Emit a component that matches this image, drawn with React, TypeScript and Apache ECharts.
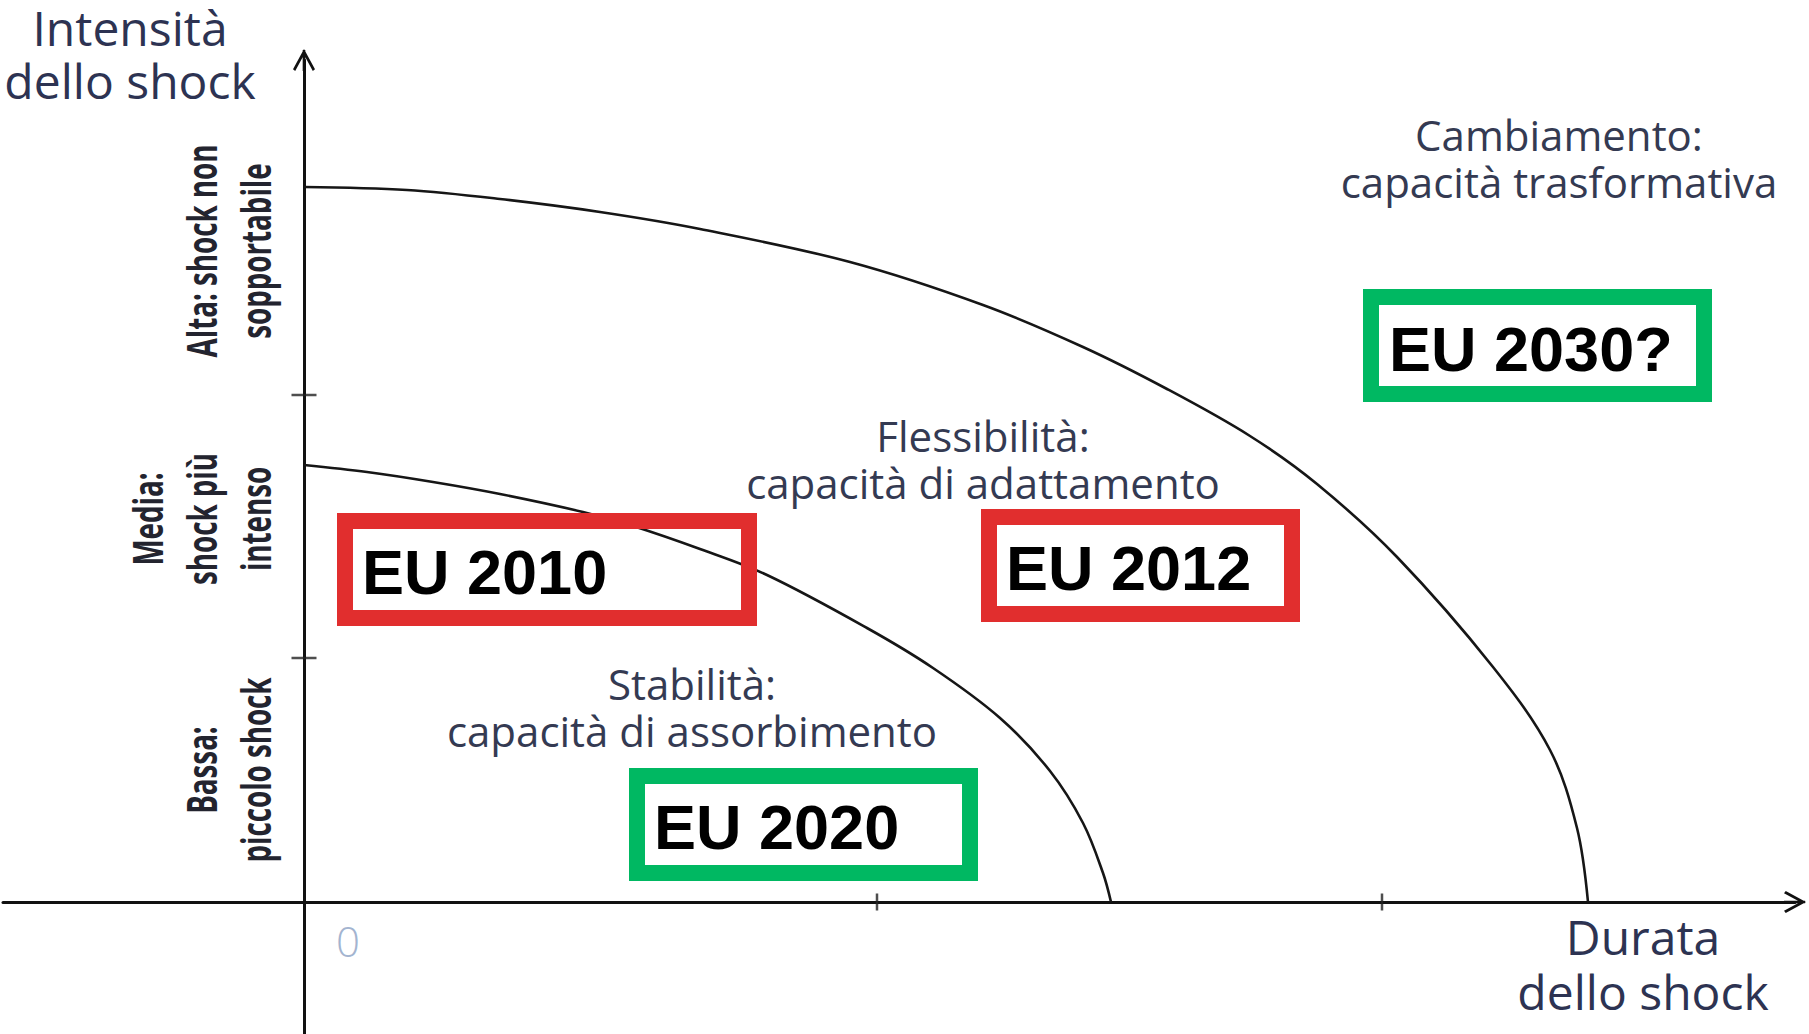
import React, { useEffect, useRef } from "react";
import * as echarts from "echarts";

// Axis extents (data units)
const X_MIN = -3.01;
const X_MAX = 14.91;
const Y_MIN = -1.32;
const Y_MAX = 8.42;

// Outer curve: limit of flexibility (adaptation)
const OUTER_X = [0, 1.03, 1.96, 2.96, 3.96, 5.46, 6.79, 7.79, 8.63, 9.46, 10.13, 10.93, 11.89, 12.46, 12.73, 12.84];
const OUTER_Y = [7.15, 7.12, 7.03, 6.9, 6.73, 6.4, 5.97, 5.55, 5.13, 4.66, 4.18, 3.45, 2.35, 1.52, 0.74, 0];

// Inner curve: limit of stability (absorption)
const INNER_X = [0, 0.63, 1.29, 1.96, 2.79, 3.29, 3.96, 4.63, 5.63, 6.29, 6.96, 7.46, 7.79, 7.99, 8.07];
const INNER_Y = [4.37, 4.3, 4.2, 4.08, 3.9, 3.76, 3.53, 3.27, 2.74, 2.34, 1.84, 1.31, 0.79, 0.29, 0];

// Axis tick marks
const X_TICKS = [5.73, 10.78];
const Y_TICKS = [2.44, 5.07];

// Texts
const Y_TITLE = ["Intensità", "dello shock"];
const X_TITLE = ["Durata", "dello shock"];
const ZERO_LABEL = "0";
const LEVEL_ALTA = ["Alta: shock non", "sopportabile"];
const LEVEL_MEDIA = ["Media:", "shock più", "intenso"];
const LEVEL_BASSA = ["Bassa:", "piccolo shock"];
const ZONE_STAB = ["Stabilità:", "capacità di assorbimento"];
const ZONE_FLEX = ["Flessibilità:", "capacità di adattamento"];
const ZONE_CHANGE = ["Cambiamento:", "capacità trasformativa"];
const BOX_LABELS = ["EU 2010", "EU 2012", "EU 2020", "EU 2030?"];

const RED = "#E12E2E";
const GREEN = "#00B862";
const TXT = "#343a52";
const ARROW =
  "path://M50 0 L100 92 L90 100 L50 26 L10 100 L0 92 Z M44 4 L56 4 L56 100 L44 100 Z";

export default function App() {
  const ref = useRef<HTMLDivElement>(null);

  useEffect(() => {
    document.body.style.margin = "0";
    const chart = echarts.init(ref.current!, undefined, { renderer: "svg" });

    const sans = "'Open Sans', 'Noto Sans', sans-serif";
    const arial = "'Liberation Sans', Arial, sans-serif";

    const txt = (
      lines: string[],
      x: number,
      y: number,
      fontSize: number,
      lineHeight: number,
      extra: any = {}
    ) => ({
      type: "text",
      x,
      y,
      z: 20,
      silent: true,
      ...(extra.el || {}),
      style: {
        text: lines.join("\n"),
        fontSize,
        lineHeight,
        fontFamily: sans,
        fill: TXT,
        align: "center",
        verticalAlign: "middle",
        ...(extra.style || {}),
      },
    });

    const vtxt = (lines: string[], x: number, y: number) =>
      txt(lines, x, y, 42, 54, {
        el: { rotation: Math.PI / 2, scaleX: 0.66 },
        style: { fontWeight: "bold", fill: "#23242f" },
      });

    const box = (ox: number, oy: number, w: number, h: number, color: string) => ({
      type: "rect",
      z: 15,
      silent: true,
      shape: { x: ox + 8, y: oy + 8, width: w - 16, height: h - 16 },
      style: { fill: "none", stroke: color, lineWidth: 16 },
    });

    const boxText = (text: string, x: number, y: number) =>
      txt([text], x, y, 63, 66, {
        style: { fontFamily: arial, fontWeight: "bold", fill: "#000", align: "left" },
      });

    const titleStyle = { style: { fill: "#2d3352" } };

    const graphic: any[] = [
      txt(Y_TITLE, 130, 54, 48, 53, titleStyle),
      txt(X_TITLE, 1643, 964, 48, 55, titleStyle),
      txt([ZERO_LABEL], 348, 940, 42, 44, { style: { fill: "#a3b4d0", fontWeight: 300 } }),

      vtxt(LEVEL_ALTA, 227, 251),
      vtxt(LEVEL_MEDIA, 200, 519),
      vtxt(LEVEL_BASSA, 227, 770),

      txt(ZONE_CHANGE, 1559, 158, 42, 47),
      txt(ZONE_FLEX, 983, 459, 42, 47),
      txt(ZONE_STAB, 692, 707, 42, 47),

      box(337, 513, 420, 113, RED),
      box(981, 509, 319, 113, RED),
      box(629, 768, 349, 113, GREEN),
      box(1363, 289, 349, 113, GREEN),
      boxText(BOX_LABELS[0], 362, 572),
      boxText(BOX_LABELS[1], 1006, 568),
      boxText(BOX_LABELS[2], 654, 827),
      boxText(BOX_LABELS[3], 1389, 349),
    ];

    const axisCommon = {
      type: "value",
      axisTick: { show: false },
      axisLabel: { show: false },
      splitLine: { show: false },
      axisLine: {
        show: true,
        onZero: true,
        symbol: ["none", ARROW],
        symbolSize: [22, 26],
        lineStyle: { color: "#111", width: 3 },
      },
    };

    const curveStyle = { color: "#161616", width: 2.6 };

    chart.setOption({
      animation: false,
      backgroundColor: "#fff",
      grid: { left: 3, right: 14, top: 60, bottom: 0, containLabel: false, outerBoundsMode: "none" },
      xAxis: { ...axisCommon, min: X_MIN, max: X_MAX },
      yAxis: { ...axisCommon, min: Y_MIN, max: Y_MAX },
      series: [
        {
          name: "outer",
          type: "line",
          data: OUTER_X.map((x, i) => [x, OUTER_Y[i]]),
          smooth: 0.35,
          showSymbol: false,
          silent: true,
          lineStyle: curveStyle,
          z: 3,
        },
        {
          name: "inner",
          type: "line",
          data: INNER_X.map((x, i) => [x, INNER_Y[i]]),
          smooth: 0.35,
          showSymbol: false,
          silent: true,
          lineStyle: curveStyle,
          z: 3,
        },
        {
          name: "xticks",
          type: "scatter",
          data: X_TICKS.map((x) => [x, 0]),
          symbol: "rect",
          symbolSize: [2.5, 17],
          itemStyle: { color: "#222" },
          silent: true,
          z: 4,
        },
        {
          name: "yticks",
          type: "scatter",
          data: Y_TICKS.map((y) => [0, y]),
          symbol: "rect",
          symbolSize: [25, 2.5],
          itemStyle: { color: "#222" },
          silent: true,
          z: 4,
        },
      ],
      graphic,
    });

    return () => chart.dispose();
  }, []);

  return (
    <div
      ref={ref}
      style={{ position: "absolute", left: 0, top: 0, width: 1809, height: 1034, background: "#fff" }}
    />
  );
}
